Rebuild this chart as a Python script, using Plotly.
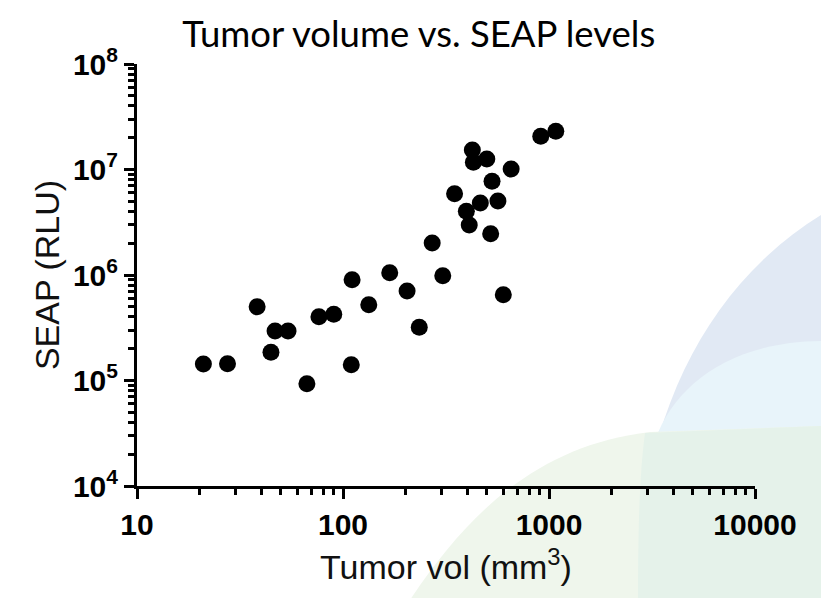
import plotly.graph_objects as go

# Data
tumor_vol = [21.0, 27.5, 38.3, 46.8, 54.1, 44.7, 66.8, 76.4, 90.2, 110.7,
             133.4, 109.7, 168.6, 204.7, 234.5, 271, 305, 348, 397, 410,
             424.5, 429.5, 464, 499, 529, 521, 565, 600, 655, 912, 1079]
seap_rlu = [1.43e5, 1.44e5, 5.0e5, 2.94e5, 2.94e5, 1.85e5, 9.3e4, 4.03e5, 4.24e5, 9.0e5,
            5.22e5, 1.41e5, 1.05e6, 7.05e5, 3.19e5, 2.01e6, 9.85e5, 5.9e6, 4.02e6, 2.98e6,
            1.53e7, 1.17e7, 4.81e6, 1.26e7, 7.73e6, 2.46e6, 5.03e6, 6.5e5, 1.01e7, 2.07e7, 2.30e7]

x_tickvals = [10, 100, 1000, 10000]
x_ticktext = ["10", "100", "1000", "10000"]
y_tickvals = [1e4, 1e5, 1e6, 1e7, 1e8]
y_exponents = ["4", "5", "6", "7", "8"]

title_text = "Tumor volume vs. SEAP levels"
x_title = "Tumor vol (mm<sup>3</sup>)"
y_title = "SEAP (RLU)"

W, H = 821, 598
ML, MR, MT, MB = 137, 66, 64, 112
PW, PH = W - ML - MR, H - MT - MB


def px(x, y):
    return (x - ML) / PW, (H - MB - y) / PH


def path(cmds):
    out = []
    for c in cmds:
        if isinstance(c, str):
            out.append(c)
        else:
            xx, yy = px(*c)
            out.append(f"{xx:.4f},{yy:.4f}")
    return " ".join(out)


bg_shapes = [
    # blue arc
    (["M", (638, 598), "C", (636, 430), (700, 290), (821, 215), "L", (821, 598), "Z"], "#e1e9f4"),
    # light cyan
    (["M", (655, 440), "C", (675, 385), (730, 342), (821, 341), "L", (821, 440), "Z"], "#e8f4fa"),
    # green band
    (["M", (410, 600), "C", (470, 510), (540, 445), (650, 432), "L", (821, 426), "L", (821, 600), "Z"], "#eff6ec"),
    # teal overlap
    (["M", (638, 600), "C", (638, 520), (640, 470), (645, 433), "L", (821, 426), "L", (821, 600), "Z"], "#e5f2ea"),
]

shapes = []
for cmds, col in bg_shapes:
    shapes.append(dict(type="path", xref="paper", yref="paper", path=path(cmds),
                       fillcolor=col, line=dict(width=0), layer="below"))

fig = go.Figure()
fig.add_trace(go.Scatter(
    x=tumor_vol, y=seap_rlu, mode="markers",
    marker=dict(size=17, color="black", line=dict(width=0)),
    showlegend=False, cliponaxis=False,
))

x_minor = [m * 10 ** d for d in range(1, 4) for m in range(2, 10)]
y_minor = [m * 10 ** d for d in range(4, 8) for m in range(2, 10)]

axis_common = dict(
    type="log", showline=True, linewidth=3, linecolor="black",
    showgrid=False, zeroline=False, ticks="outside", ticklen=10, tickwidth=3,
    tickcolor="black", tickmode="array",
)

fig.update_layout(
    width=W, height=H,
    margin=dict(l=ML, r=MR, t=MT, b=MB),
    paper_bgcolor="white", plot_bgcolor="rgba(0,0,0,0)",
    shapes=shapes,
    title=dict(text=title_text, x=0.51, xanchor="center", y=1 - 34 / H, yanchor="middle",
               yref="container", font=dict(family="Lato", size=36.5, color="black")),
    xaxis=dict(
        **axis_common, range=[1, 4],
        tickvals=x_tickvals, ticktext=[f"<b>{t}</b>" for t in x_ticktext],
        tickfont=dict(family="Liberation Sans, Arial", size=30, color="black"),
        minor=dict(tickmode="array", tickvals=x_minor, ticks="outside", ticklen=6,
                   tickwidth=3, tickcolor="black", showgrid=False),
        title=dict(text=x_title, font=dict(family="Liberation Sans, Arial", size=34, color="#111111"),
                   standoff=16),
    ),
    yaxis=dict(
        **axis_common, range=[4, 8],
        tickvals=y_tickvals, ticktext=[f"<b>10<sup>{e}</sup></b>" for e in y_exponents],
        tickfont=dict(family="Liberation Sans, Arial", size=30, color="black"),
        minor=dict(tickmode="array", tickvals=y_minor, ticks="outside", ticklen=6,
                   tickwidth=3, tickcolor="black", showgrid=False),
        title=dict(text=y_title, font=dict(family="Liberation Sans, Arial", size=34, color="#111111"),
                   standoff=4),
    ),
)

fig.write_html("out.html")
